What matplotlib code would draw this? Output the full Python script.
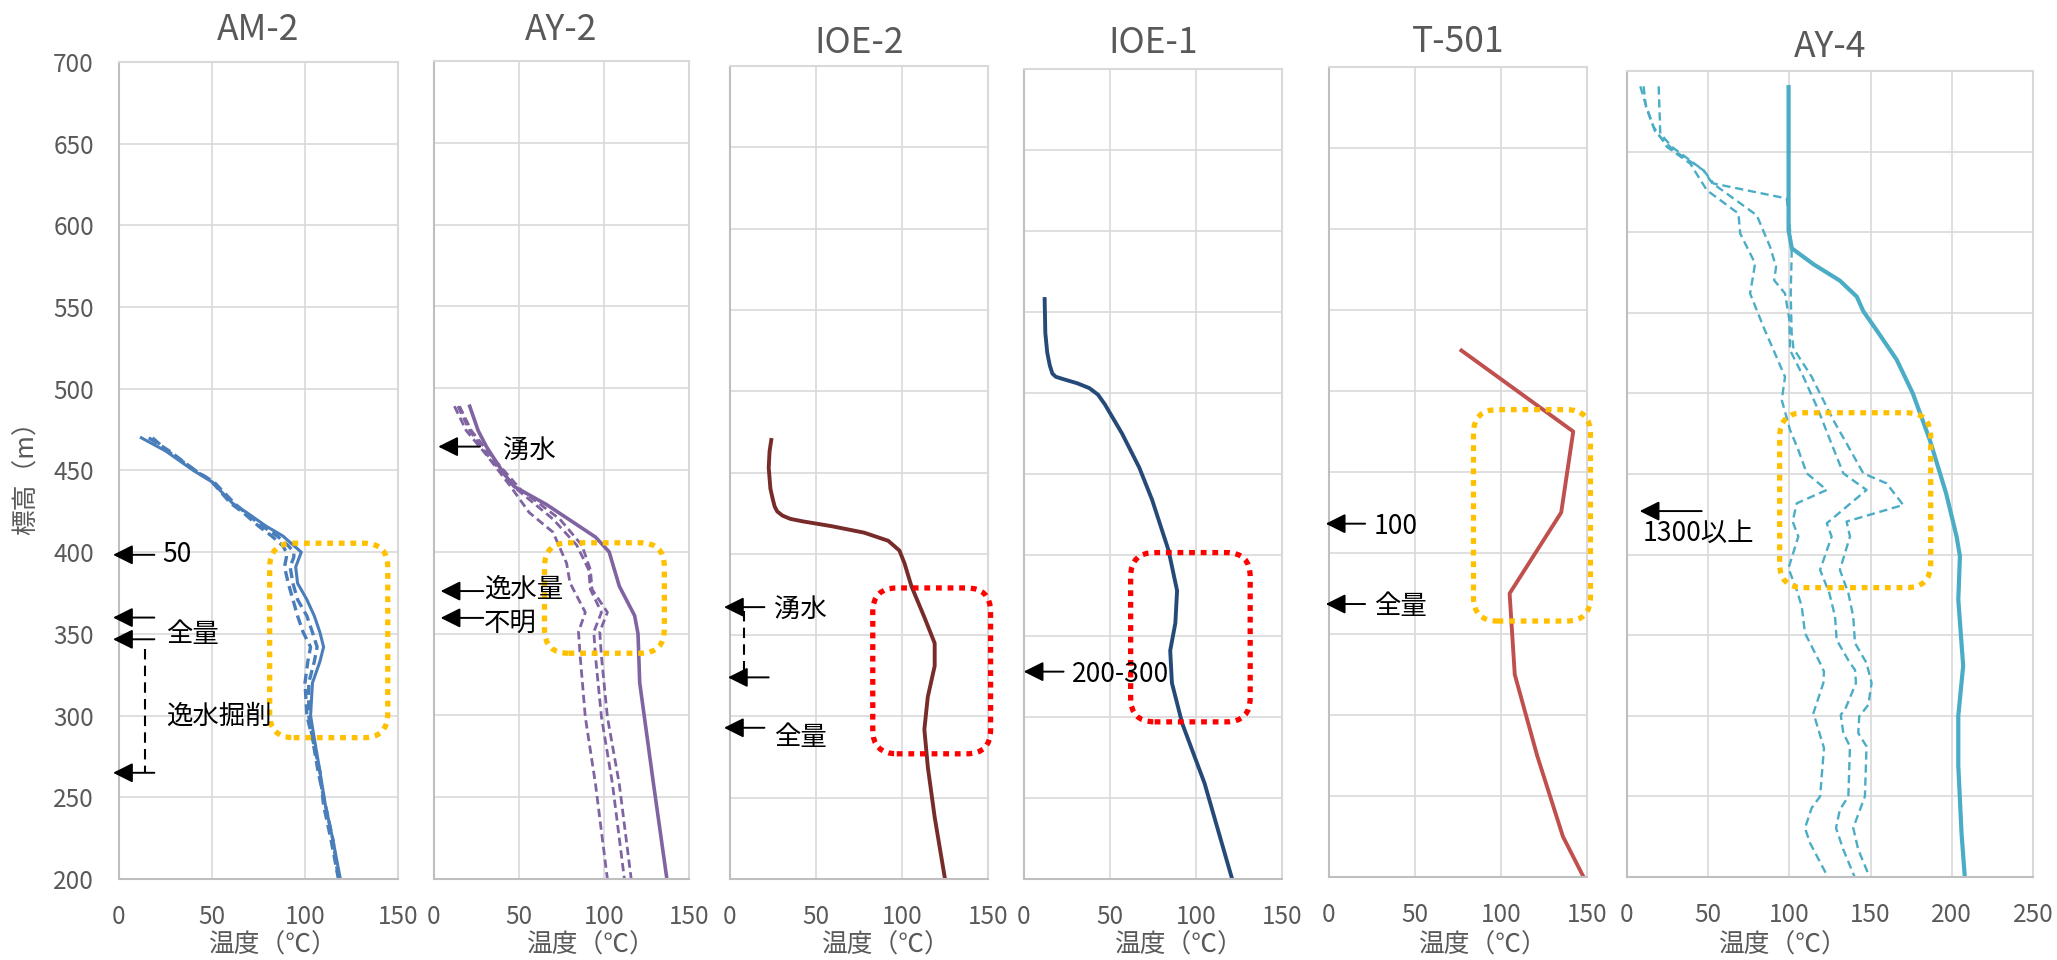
import matplotlib
matplotlib.use("Agg")
import matplotlib.pyplot as plt
from matplotlib.patches import FancyBboxPatch

plt.rcParams["font.family"] = ["Noto Sans CJK JP", "DejaVu Sans"]

W, H = 2057, 960

# 坑井ごとの温度検層データ（標高 m / 温度 ℃）
am2_elev = [470, 462, 450, 443, 430, 424, 416, 410, 404, 400, 397, 391, 381, 371, 361,
            351, 342, 333, 320, 300, 286, 266, 245, 224, 200]
am2_t_main = [12, 25, 40, 50, 61, 69, 79, 88, 94, 98, 97, 95, 96, 101, 105,
              108, 110, 108, 104, 103, 105, 108, 111, 115, 119]
am2_t_run1 = [18, 26, 41, 51, 62, 68, 77, 85, 91, 94, 94, 92, 93.5, 96, 101,
              104, 106.5, 105, 102, 102, 104, 107, 111, 115, 118]
am2_t_run2 = [16, 27, 41, 50, 60, 67, 75, 82, 88, 90, 90, 89, 91, 93.5, 96,
              99, 103, 101.5, 100, 101, 104, 108, 110, 114, 118]

ay2_elev_main = [489, 474, 464, 448, 440, 429, 409, 400, 379, 361, 350, 320, 259, 200]
ay2_t_main = [21, 26, 31, 41, 47, 66, 95, 103, 109, 118, 120, 121, 129, 137]
ay2_elev_a = [489, 474, 459, 440, 424, 412, 393, 381, 363, 351, 336, 299, 258, 200]
ay2_t_a = [12, 19, 31, 45, 56, 70, 78, 80, 89, 85, 86, 89, 95, 102]
ay2_elev_bc = [489, 474, 457, 438, 420, 404, 389, 377, 363, 351, 336, 299, 258, 200]
ay2_t_b = [14, 21, 33, 49, 70, 84, 91, 92, 98.5, 94, 95, 98.5, 105, 112]
ay2_t_c = [15, 22, 35, 51, 74, 87, 92, 93, 102, 97.5, 98.5, 102, 109, 116]

ioe2_elev = [470, 463, 453, 440, 433, 429, 426, 423.5, 421.5, 420, 417, 413, 408, 402,
             394, 380, 361, 345, 331, 312, 292, 269, 238, 200]
ioe2_t = [24, 23, 22.5, 23.5, 25, 26, 27.5, 30.5, 35, 42, 59, 78, 92, 98.5,
          101.5, 105.5, 113, 119, 119, 115, 113, 115, 119, 125]

ioe1_elev = [558, 537, 525, 517, 512, 510, 508.5, 506, 503, 499, 493, 475, 454, 434,
             403, 378, 358, 341, 321, 296, 259, 200]
ioe1_t = [12, 12.4, 13.5, 15, 16.5, 18.5, 23, 31, 38, 43, 47, 57, 67, 74.5,
          84, 89, 88, 85, 86, 92, 105, 121]

t501_elev = [525, 475, 425, 375, 325, 275, 225, 200]
t501_t = [77, 142, 135, 105, 108, 121, 136, 148]

ay4_elev_main = [690, 601, 590, 580, 570, 560, 551, 538, 521, 500, 471, 438, 411, 399,
                 372, 331, 300, 269, 227, 200]
ay4_t_main = [99.5, 99.5, 101.5, 115, 131, 141.5, 145.5, 154.5, 166, 176, 186.5, 196.5,
              203, 205, 204, 207, 204, 204, 206, 208]
ay4_elev_l = [690.5, 679.8, 665.3, 652.9, 642.6, 626.0, 611.6, 599.2, 580.6, 562.0, 541.3,
              526.9, 510.3, 495.9, 477.3, 464.9, 450.4, 440.1, 431.8, 420.5, 411.2, 391.5,
              378.1, 367.8, 351.3, 332.7, 327.5, 320.3, 301.7, 280.0, 250.0, 242.8, 230.4,
              221.1, 199.4]
ay4_t_l = [8.2, 11.3, 16.4, 24.6, 38.9, 49.2, 68.6, 69.7, 78.9, 75.8, 84.0, 90.2, 97.3,
           95.3, 100.4, 105.5, 110.7, 123.0, 104.5, 102.0, 105.5, 99.4, 104.5, 107.6, 109.6,
           118.9, 121.3, 120.9, 114.8, 121.3, 118.9, 113.7, 109.6, 112.7, 124.0]
ay4_elev_m = [690.5, 677.7, 662.2, 650.8, 638.4, 630.6, 610.5, 590.9, 578.5, 570.2, 562.0,
              545.5, 526.9, 510.3, 489.7, 471.1, 450.4, 440.1, 419.4, 411.2, 390.5, 376.1,
              361.6, 347.1, 332.7, 328.5, 320.3, 303.7, 300.6, 289.3, 281.0, 250.0, 241.8,
              230.4, 217.0, 199.4]
ay4_t_m = [10.2, 11.7, 17.4, 28.7, 47.1, 52.3, 79.9, 88.1, 91.8, 90.6, 97.3, 100.0, 100.4,
           108.6, 117.8, 125.0, 133.2, 147.5, 123.0, 126.0, 118.9, 124.6, 128.1, 129.1,
           137.3, 140.4, 141.0, 134.2, 131.6, 133.2, 137.3, 136.3, 131.1, 128.7, 133.2, 140.4]
ay4_elev_r = [690.5, 661.2, 652.9, 638.4, 630.2, 620.9, 601.2, 586.8, 562.0, 537.2, 527.9,
              510.3, 483.5, 469.0, 450.4, 444.2, 430.8, 420.5, 411.2, 390.5, 376.1, 361.6,
              345.1, 332.7, 320.3, 306.8, 299.6, 289.3, 281.0, 250.0, 230.4, 217.0, 199.4]
ay4_t_r = [19.5, 20.5, 27.7, 47.1, 53.3, 98.4, 100.4, 101.4, 100.8, 101.4, 102.5, 113.7,
           127.0, 135.2, 145.5, 159.8, 170.1, 135.2, 137.3, 131.1, 136.3, 139.3, 140.4,
           147.5, 150.6, 148.6, 143.0, 142.4, 147.5, 146.5, 139.3, 142.4, 149.6]

titles = ["AM-2", "AY-2", "IOE-2", "IOE-1", "T-501", "AY-4"]
x_max = [150, 150, 150, 150, 150, 250]
y_ticks = list(range(200, 701, 50))

# 枠の位置（px）: left, right, top, bottom
frames = [(119, 398, 62, 879), (434, 689, 61, 879), (730, 988, 66, 879),
          (1024, 1282, 69, 879), (1329, 1587, 67, 877), (1627, 2033, 71, 877)]
title_y = [30, 30, 43, 43, 42, 47]
xlabel_x = [273, 591, 886, 1179, 1483, 1783]

fig = plt.figure(figsize=(W / 100, H / 100), dpi=100)
axes = []
for i, (l, r, t, b) in enumerate(frames):
    ax = fig.add_axes([l / W, 1 - b / H, (r - l) / W, (b - t) / H])
    ax.set_xlim(0, x_max[i])
    ax.set_ylim(200, 700)
    ax.set_xticks(range(0, x_max[i] + 1, 50))
    ax.set_yticks(y_ticks)
    ax.grid(True, color="#d9d9d9", lw=1.2)
    ax.set_axisbelow(True)
    for s in ax.spines.values():
        s.set_color("#d9d9d9")
        s.set_linewidth(1.5)
    ax.spines["left"].set_color("#bfbfbf")
    ax.spines["bottom"].set_color("#bfbfbf")
    ax.tick_params(length=0, labelsize=17.5, labelcolor="#595959")
    ax.tick_params(axis="x", pad=18)
    ax.tick_params(axis="y", pad=18)
    if i > 0:
        ax.tick_params(labelleft=False)
    fig.text((l + r) / 2 / W, 1 - title_y[i] / H, titles[i], ha="center", va="center",
             fontsize=25.5, color="#595959")
    fig.text(xlabel_x[i] / W, 1 - 946 / H, "温度（℃）", ha="center", va="center",
             fontsize=18.5, color="#595959")
    axes.append(ax)

fig.text(27 / W, 1 - 472 / H, "標高（m）", rotation=90, ha="center", va="center",
         fontsize=18.5, color="#595959")


def dotted_box(ax, x0, x1, y0, y1, color):
    # 角丸を画面上で真円に近づける
    bb = ax.get_window_extent()
    xpp = (ax.get_xlim()[1] - ax.get_xlim()[0]) / bb.width
    ypp = (ax.get_ylim()[1] - ax.get_ylim()[0]) / bb.height
    r = 24 * xpp
    box = FancyBboxPatch((x0, y0), x1 - x0, y1 - y0,
                         boxstyle=f"round,pad=0,rounding_size={r}",
                         mutation_aspect=ypp / xpp, fill=False, edgecolor=color,
                         lw=3.8, linestyle=(0, (1.1, 1.1)), clip_on=False, zorder=4)
    ax.add_patch(box)


def arrow(ax, y, x_tail, x_tip):
    ax.annotate("", xy=(x_tip, y), xytext=(x_tail, y), annotation_clip=False,
                arrowprops=dict(arrowstyle="-|>,head_length=0.6,head_width=0.3",
                                color="black", lw=1.4, shrinkA=0, shrinkB=0,
                                mutation_scale=20))


def note(ax, x, y, s):
    ax.text(x, y, s, ha="left", va="center", fontsize=19, color="black", clip_on=False,
            zorder=6)


dash = (0, (3, 1.6))

# AM-2
ax = axes[0]
c = "#4a7ebb"
ax.plot(am2_t_run2, am2_elev, color=c, lw=2.4, ls=dash)
ax.plot(am2_t_run1, am2_elev, color=c, lw=2.4, ls=dash)
ax.plot(am2_t_main, am2_elev, color=c, lw=2.2)
dotted_box(ax, 81, 144.5, 286.5, 405.5, "#ffc000")
for y in [398.4, 360, 346.7, 265]:
    arrow(ax, y, 19, -3.2)
ax.plot([14.2, 14.2], [341, 265], color="black", lw=1.5, ls=(0, (5, 3)), clip_on=False)
note(ax, 23.5, 398.4, "50")
note(ax, 25.5, 349.4, "全量")
note(ax, 25.5, 299.4, "逸水掘削")

# AY-2
ax = axes[1]
c = "#8064a2"
ax.plot(ay2_t_a, ay2_elev_a, color=c, lw=2.0, ls=dash)
ax.plot(ay2_t_b, ay2_elev_bc, color=c, lw=2.0, ls=dash)
ax.plot(ay2_t_c, ay2_elev_bc, color=c, lw=2.0, ls=dash)
ax.plot(ay2_t_main, ay2_elev_main, color=c, lw=2.6)
dotted_box(ax, 65, 135.5, 338, 405.5, "#ffc000")
arrow(ax, 464.3, 27, 2.5)
arrow(ax, 376, 29, 3.9)
arrow(ax, 359.6, 29, 3.9)
note(ax, 40.7, 462, "湧水")
note(ax, 29.5, 377, "逸水量")
note(ax, 29.5, 356.5, "不明")

# IOE-2
ax = axes[2]
ax.plot(ioe2_t, ioe2_elev, color="#772c2a", lw=2.8)
dotted_box(ax, 83, 151.5, 277, 379, "#ff0000")
arrow(ax, 367.2, 20, -3.5)
arrow(ax, 324, 22.5, -1.2)
arrow(ax, 293, 20, -3.5)
ax.plot([8.1, 8.1], [365, 326], color="black", lw=1.5, ls=(0, (5, 3)), clip_on=False)
note(ax, 25.6, 365.6, "湧水")
note(ax, 25.6, 286.9, "全量")

# IOE-1
ax = axes[3]
ax.plot(ioe1_t, ioe1_elev, color="#264a78", lw=2.8)
dotted_box(ax, 62, 131.5, 297, 401.5, "#ff0000")
arrow(ax, 328, 23, -0.2)
note(ax, 27.9, 326, "200-300")

# T-501
ax = axes[4]
ax.plot(t501_t, t501_elev, color="#c0504d", lw=2.8)
dotted_box(ax, 84, 152, 358, 488.5, "#ffc000")
arrow(ax, 418.1, 21, -1.9)
arrow(ax, 368.5, 21, -1.9)
note(ax, 26, 416.5, "100")
note(ax, 26, 367, "全量")

# AY-4
ax = axes[5]
c = "#4bacc6"
for tt, ee in [(ay4_t_l, ay4_elev_l), (ay4_t_m, ay4_elev_m), (ay4_t_r, ay4_elev_r)]:
    ax.plot(tt, ee, color=c, lw=1.7, ls=(0, (3.5, 2)))
ax.plot(ay4_t_main, ay4_elev_main, color=c, lw=3.0)
dotted_box(ax, 94, 187, 379.5, 488, "#ffc000")
arrow(ax, 427, 46, 7.8)
note(ax, 9.8, 413.3, "1300以上")

fig.savefig("out.png", dpi=100)
